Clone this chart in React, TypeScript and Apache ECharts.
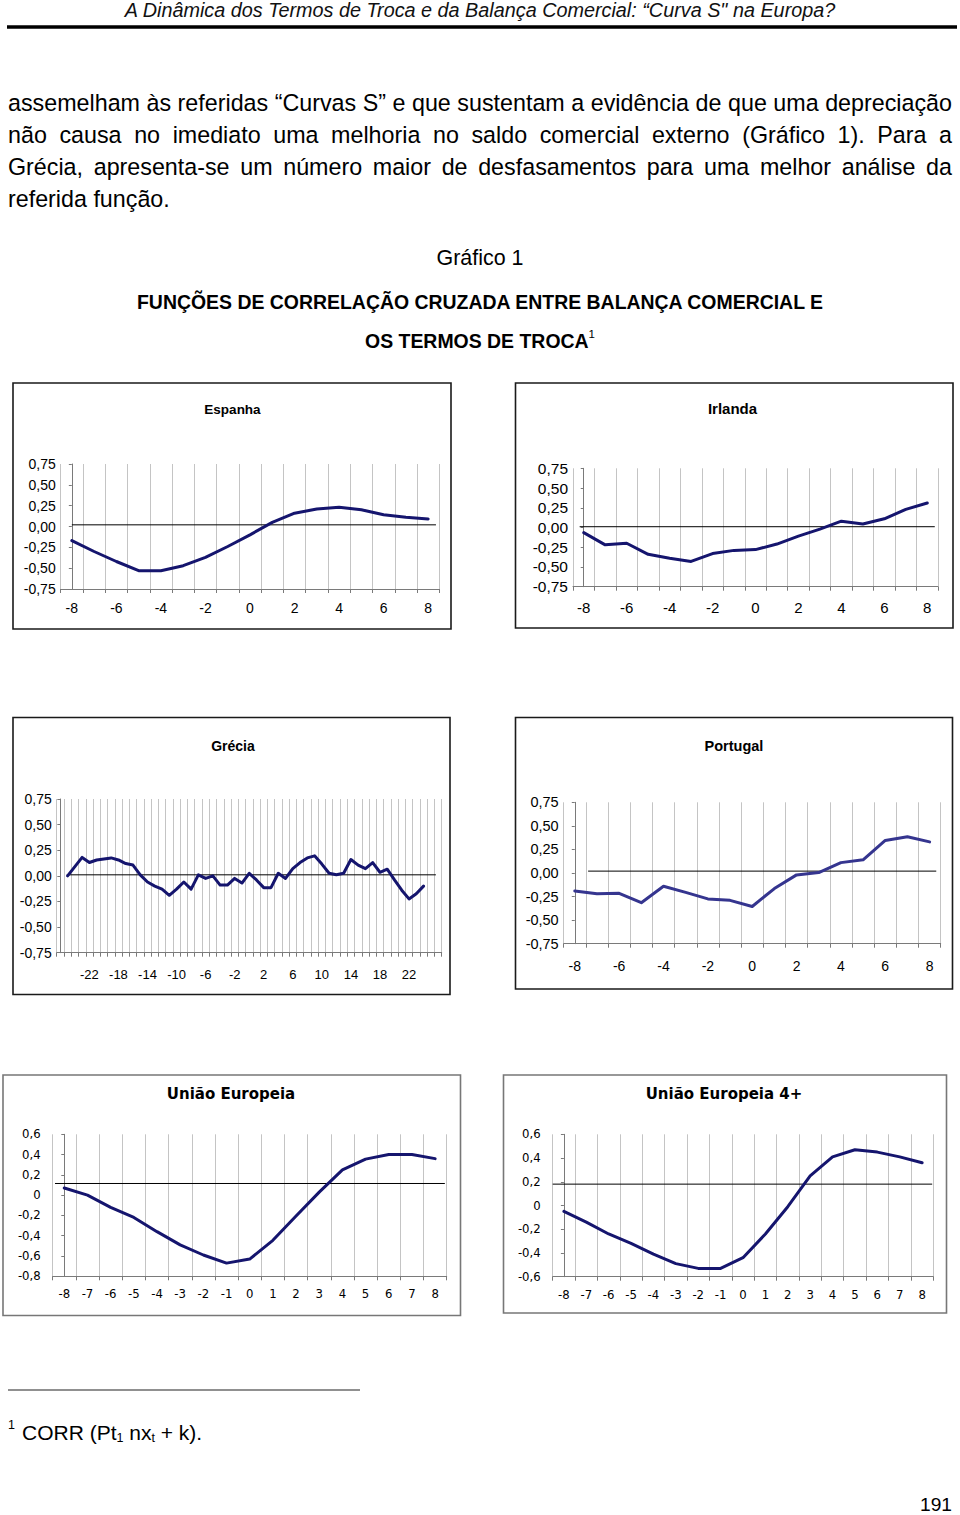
import React, { useEffect, useRef } from "react";
import * as echarts from "echarts";

const ARIAL = "Liberation Sans";
const VERDANA = "DejaVu Sans";
const NAVY = "#15156e";
const PORTUGAL_BLUE = "#35358f";

// ---------- texts ----------
const runningHead = "A Dinâmica dos Termos de Troca e da Balança Comercial: \u201CCurva S\" na Europa?";
const bodyLines = [
  "assemelham às referidas \u201CCurvas S\u201D e que sustentam a evidência de que uma depreciação",
  "não causa no imediato uma melhoria no saldo comercial externo (Gráfico 1). Para a",
  "Grécia, apresenta-se um número maior de desfasamentos para uma melhor análise da",
  "referida função.",
];
const figureNumber = "Gráfico 1";
const figureTitleLine1 = "FUNÇÕES DE CORRELAÇÃO CRUZADA ENTRE BALANÇA COMERCIAL E";
const figureTitleLine2 = "OS TERMOS DE TROCA";
const figureTitleMark = "1";
const noteMark = "1";
const noteParts: [string, boolean][] = [
  ["CORR (Pt", false],
  ["1", true],
  [" nx", false],
  ["t", true],
  [" + k).", false],
];
const pageNumber = "191";

// ---------- categories ----------
const lags8 = ["-8", "-7", "-6", "-5", "-4", "-3", "-2", "-1", "0", "1", "2", "3", "4", "5", "6", "7", "8"];
const lags26 = [
  "-26", "-25", "-24", "-23", "-22", "-21", "-20", "-19", "-18", "-17", "-16", "-15", "-14", "-13",
  "-12", "-11", "-10", "-9", "-8", "-7", "-6", "-5", "-4", "-3", "-2", "-1", "0", "1", "2", "3", "4",
  "5", "6", "7", "8", "9", "10", "11", "12", "13", "14", "15", "16", "17", "18", "19", "20", "21",
  "22", "23", "24", "25", "26",
];
const greciaShownLabels = ["-22", "-18", "-14", "-10", "-6", "-2", "2", "6", "10", "14", "18", "22"];

// ---------- series values ----------
const espanhaValues = [-0.17, -0.3, -0.42, -0.53, -0.53, -0.47, -0.37, -0.24, -0.1, 0.05, 0.16, 0.21, 0.23, 0.2, 0.14, 0.11, 0.09];
const irlandaValues = [-0.065, -0.22, -0.2, -0.34, -0.39, -0.43, -0.33, -0.29, -0.28, -0.21, -0.11, -0.02, 0.08, 0.045, 0.11, 0.23, 0.31];
const greciaValues = [
  null, 0.0, 0.09, 0.18, 0.13, 0.155, 0.165, 0.175, 0.155, 0.12, 0.105, 0.01, -0.06, -0.1,
  -0.13, -0.19, -0.13, -0.06, -0.13, 0.01, -0.025, 0.0, -0.09, -0.09, -0.025, -0.07, 0.025, -0.04, -0.115, -0.115, 0.025,
  -0.025, 0.07, 0.13, 0.175, 0.195, 0.115, 0.025, 0.01, 0.025, 0.16, 0.105, 0.07, 0.13, 0.035, 0.065, -0.04, -0.14,
  -0.225, -0.175, -0.1, null, null,
];
const portugalValues = [-0.19, -0.22, -0.215, -0.315, -0.14, -0.205, -0.275, -0.29, -0.355, -0.165, -0.02, 0.005, 0.11, 0.14, 0.345, 0.385, 0.33];
const ueValues = [0.07, 0.0, -0.12, -0.22, -0.36, -0.49, -0.59, -0.67, -0.63, -0.445, -0.205, 0.03, 0.25, 0.355, 0.4, 0.4, 0.36];
const ue4Values = [-0.05, -0.14, -0.24, -0.32, -0.41, -0.49, -0.53, -0.53, -0.44, -0.24, -0.01, 0.25, 0.41, 0.47, 0.45, 0.41, 0.36];

// horizontal "axis" line drawn in each panel: [from position, to position, value] (category index units)
const espanhaAxisLine = [0, 16.35, 0.02];
const irlandaAxisLine = [-0.19, 16.35, 0.01];
const greciaAxisLine = [0.88, 51.7, 0.01];
const portugalAxisLine = [0.6, 16.3, 0.02];
const ueAxisLine = [-0.4, 16.42, 0.115];
const ue4AxisLine = [-0.5, 16.45, 0.18];

// y scales: [min, max, step]
const countryScale = [-0.75, 0.75, 0.25];
const ueScale = [-0.8, 0.6, 0.2];
const ue4Scale = [-0.6, 0.6, 0.2];

type Panel = {
  title: string;
  cats: string[];
  values: (number | null)[];
  axisLine: number[];
  scale: number[];
  decimals: number;
  zeroText: string;
  grid: number[];
  box: number[];
  boxColor: string;
  titleAt: number[];
  titleSize: number;
  family: string;
  yFont: number;
  xFont: number;
  yMargin: number;
  xMargin: number;
  labelInterval: any;
  color: string;
};

const panels: Panel[] = [
  {
    title: "Espanha", cats: lags8, values: espanhaValues, axisLine: espanhaAxisLine, scale: countryScale,
    decimals: 2, zeroText: "0,00", grid: [60.7, 464, 378.6, 125], box: [13, 383, 438, 246], boxColor: "#1a1a1a",
    titleAt: [232.5, 409.5], titleSize: 13.5, family: ARIAL, yFont: 14, xFont: 14, yMargin: 5, xMargin: 12,
    labelInterval: 1, color: NAVY,
  },
  {
    title: "Irlanda", cats: lags8, values: irlandaValues, axisLine: irlandaAxisLine, scale: countryScale,
    decimals: 2, zeroText: "0,00", grid: [573, 468.3, 365, 118.4], box: [515.5, 383, 437.5, 245], boxColor: "#1a1a1a",
    titleAt: [732.5, 408], titleSize: 15, family: ARIAL, yFont: 15.5, xFont: 15, yMargin: 5, xMargin: 13,
    labelInterval: 1, color: NAVY,
  },
  {
    title: "Grécia", cats: lags26, values: greciaValues, axisLine: greciaAxisLine, scale: countryScale,
    decimals: 2, zeroText: "0,00", grid: [56.7, 799, 385, 153.7], box: [13, 717.5, 437, 277], boxColor: "#1a1a1a",
    titleAt: [233, 746], titleSize: 14, family: ARIAL, yFont: 14, xFont: 13, yMargin: 5, xMargin: 15,
    labelInterval: (_i: number, v: string) => greciaShownLabels.includes(v), color: NAVY,
  },
  {
    title: "Portugal", cats: lags8, values: portugalValues, axisLine: portugalAxisLine, scale: countryScale,
    decimals: 2, zeroText: "0,00", grid: [563.7, 802.3, 377, 141.4], box: [515.5, 717.5, 437, 271.5], boxColor: "#1a1a1a",
    titleAt: [734, 746], titleSize: 14.5, family: ARIAL, yFont: 14.5, xFont: 14, yMargin: 5, xMargin: 15,
    labelInterval: 1, color: PORTUGAL_BLUE,
  },
  {
    title: "União Europeia", cats: lags8, values: ueValues, axisLine: ueAxisLine, scale: ueScale,
    decimals: 1, zeroText: "0", grid: [52.7, 1134.3, 394, 142], box: [3, 1075, 457.5, 240.5], boxColor: "#777777",
    titleAt: [231, 1094], titleSize: 15, family: VERDANA, yFont: 11.7, xFont: 11.7, yMargin: 12, xMargin: 12,
    labelInterval: 0, color: NAVY,
  },
  {
    title: "União Europeia 4+", cats: lags8, values: ue4Values, axisLine: ue4AxisLine, scale: ue4Scale,
    decimals: 1, zeroText: "0", grid: [552.7, 1134.3, 380.6, 142.4], box: [503.5, 1075, 443, 238], boxColor: "#777777",
    titleAt: [724, 1094], titleSize: 15, family: VERDANA, yFont: 11.7, xFont: 11.7, yMargin: 12, xMargin: 12,
    labelInterval: 0, color: NAVY,
  },
];

function buildOption() {
  const ctx = document.createElement("canvas").getContext("2d") as CanvasRenderingContext2D;
  const fontStr = (style: string, size: number, family: string) =>
    [style, `${size}px`, `"${family}"`].filter(Boolean).join(" ");
  const width = (s: string, style: string, size: number, family: string) => {
    ctx.font = fontStr(style, size, family);
    return ctx.measureText(s).width;
  };
  const fit = (s: string, style: string, family: string, target: number) =>
    (100 * target) / width(s, style, 100, family);

  const text = (
    s: string, x: number, y: number, size: number,
    o: { family?: string; weight?: string; italic?: boolean; align?: string; color?: string; valign?: string } = {}
  ) => ({
    type: "text",
    x,
    y,
    silent: true,
    style: {
      text: s,
      fontSize: size,
      fontFamily: o.family || ARIAL,
      fontWeight: o.weight || "normal",
      fontStyle: o.italic ? "italic" : "normal",
      fill: o.color || "#000",
      align: o.align || "left",
      verticalAlign: o.valign || "middle",
    },
  });

  const elements: any[] = [];

  // running head
  const headSize = fit(runningHead, "italic", ARIAL, 712);
  elements.push(text(runningHead, 480, 0, headSize, { italic: true, align: "center", color: "#111", valign: "top" }));
  elements.push({ type: "line", silent: true, shape: { x1: 7, y1: 27, x2: 957, y2: 27 }, style: { stroke: "#000", lineWidth: 3.5 } });

  // body paragraph (justified)
  const bodySize = fit(bodyLines[0], "", ARIAL, 944);
  const bodyY = [103, 135, 167, 199];
  bodyLines.forEach((line, li) => {
    if (li === bodyLines.length - 1) {
      elements.push(text(line, 8, bodyY[li], bodySize));
      return;
    }
    const words = line.split(" ");
    const ws = words.map((w) => width(w, "", bodySize, ARIAL));
    const total = ws.reduce((a, b) => a + b, 0);
    const gap = (944 - total) / (words.length - 1);
    let x = 8;
    words.forEach((w, wi) => {
      elements.push(text(w, x, bodyY[li], bodySize));
      x += ws[wi] + gap;
    });
  });

  // figure heading
  const figSize = fit(figureNumber, "", ARIAL, 87);
  elements.push(text(figureNumber, 480, 258, figSize, { align: "center" }));
  const titleSize = fit(figureTitleLine1, "bold", ARIAL, 688);
  elements.push(text(figureTitleLine1, 480, 302, titleSize, { weight: "bold", align: "center" }));
  const t2w = width(figureTitleLine2, "bold", titleSize, ARIAL);
  const supSize = 11.5;
  const supW = width(figureTitleMark, "", supSize, ARIAL);
  const t2x = 480 - (t2w + supW) / 2;
  elements.push(text(figureTitleLine2, t2x, 341, titleSize, { weight: "bold" }));
  elements.push(text(figureTitleMark, t2x + t2w, 334, supSize));

  // panel frames and titles
  panels.forEach((p) => {
    elements.push({
      type: "rect",
      silent: true,
      shape: { x: p.box[0], y: p.box[1], width: p.box[2], height: p.box[3] },
      style: { fill: "none", stroke: p.boxColor, lineWidth: 1.6 },
    });
    elements.push(text(p.title, p.titleAt[0], p.titleAt[1], p.titleSize, { family: p.family, weight: "bold", align: "center" }));
  });

  // footnote
  elements.push({ type: "line", silent: true, shape: { x1: 8, y1: 1390, x2: 360, y2: 1390 }, style: { stroke: "#222", lineWidth: 1.2 } });
  const noteSize = 21;
  const smallSize = 12.5;
  elements.push(text(noteMark, 8, 1425, smallSize));
  let nx = 22;
  noteParts.forEach(([s, sub]) => {
    const size = sub ? smallSize : noteSize;
    elements.push(text(s, nx, sub ? 1438 : 1432, size));
    nx += width(s, "", size, ARIAL);
  });
  elements.push(text(pageNumber, 952, 1514, 19.2, { align: "right", valign: "bottom" }));

  const n = panels.length;
  const grid = panels.map((p) => ({ left: p.grid[0], top: p.grid[1], width: p.grid[2], height: p.grid[3], containLabel: false }));
  const catAxes = panels.map((p, i) => ({
    type: "category",
    gridIndex: i,
    data: p.cats,
    boundaryGap: true,
    position: "bottom",
    axisLine: { show: true, onZero: false, lineStyle: { color: "#7a7a7a", width: 1 } },
    axisTick: { show: true, interval: 0, length: 4, lineStyle: { color: "#7a7a7a" } },
    axisLabel: {
      interval: p.labelInterval,
      margin: p.xMargin,
      fontSize: p.xFont,
      fontFamily: p.family,
      color: "#000",
    },
    splitLine: { show: true, interval: 0, lineStyle: { color: "#c4c4c4", width: 1 } },
  }));
  const posAxes = panels.map((p, i) => ({
    type: "value",
    gridIndex: i,
    position: "top",
    min: -0.5,
    max: p.cats.length - 0.5,
    show: false,
  }));
  const yAxes = panels.map((p, i) => ({
    type: "value",
    gridIndex: i,
    min: p.scale[0],
    max: p.scale[1],
    interval: p.scale[2],
    axisLine: { show: true, lineStyle: { color: "#7a7a7a", width: 1 } },
    axisTick: { show: true, length: 3, lineStyle: { color: "#7a7a7a" } },
    axisLabel: {
      margin: p.yMargin,
      fontSize: p.yFont,
      fontFamily: p.family,
      color: "#000",
      formatter: (v: number) => {
        const r = Math.round(v * 1000) / 1000;
        if (Math.abs(r) < 1e-9) return p.zeroText;
        return r.toFixed(p.decimals).replace(".", ",");
      },
    },
    splitLine: { show: false },
  }));

  const series: any[] = [];
  panels.forEach((p, i) => {
    series.push({
      type: "line",
      xAxisIndex: n + i,
      yAxisIndex: i,
      data: [
        [p.axisLine[0], p.axisLine[2]],
        [p.axisLine[1], p.axisLine[2]],
      ],
      symbol: "none",
      silent: true,
      lineStyle: { color: "#000", width: 1 },
      z: 2,
    });
    series.push({
      type: "line",
      xAxisIndex: i,
      yAxisIndex: i,
      data: p.values,
      symbol: "none",
      connectNulls: false,
      silent: true,
      lineStyle: { color: p.color, width: 3, cap: "round", join: "round" },
      z: 3,
    });
  });

  return {
    animation: false,
    backgroundColor: "#ffffff",
    grid,
    xAxis: [...catAxes, ...posAxes],
    yAxis: yAxes,
    series,
    graphic: { elements },
  };
}

export default function App() {
  const ref = useRef<HTMLDivElement>(null);
  useEffect(() => {
    const chart = echarts.init(ref.current as HTMLDivElement, null, { renderer: "svg" });
    chart.setOption(buildOption() as any);
    return () => chart.dispose();
  }, []);
  return (
    <div
      ref={ref}
      style={{ position: "absolute", left: 0, top: 0, width: 960, height: 1515, background: "#fff" }}
    />
  );
}
